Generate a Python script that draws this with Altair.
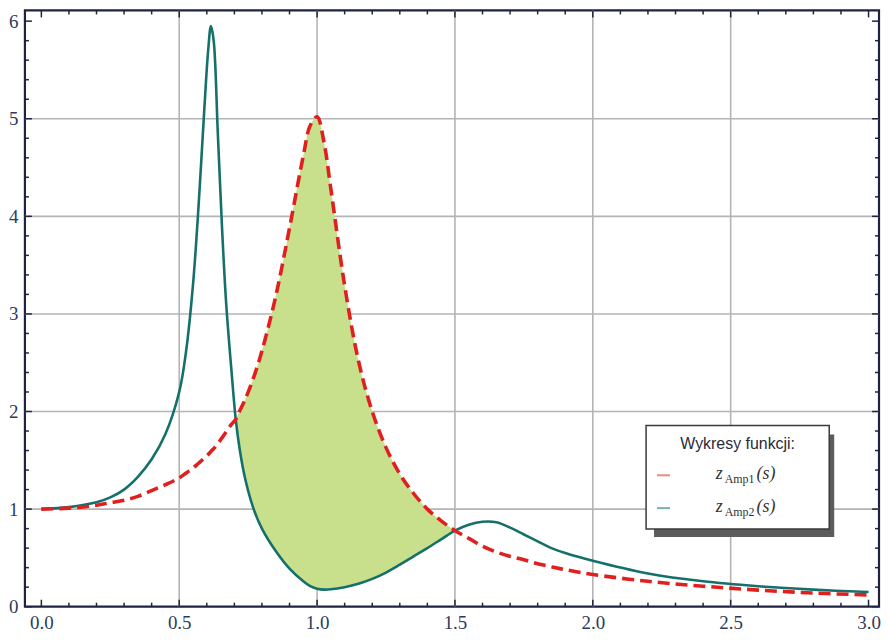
import altair as alt
import pandas as pd

# ---- data ----
s = [0.0, 0.1, 0.2, 0.25, 0.3, 0.35, 0.4, 0.45, 0.5, 0.525, 0.55, 0.57, 0.59, 0.605, 0.615,
     0.625, 0.64, 0.655, 0.67, 0.69, 0.705, 0.72, 0.74, 0.77, 0.8, 0.85, 0.9, 0.95,
     0.975, 1.0, 1.025, 1.05, 1.1, 1.15, 1.2, 1.25, 1.3, 1.35, 1.4, 1.45, 1.5, 1.55,
     1.6, 1.65, 1.7, 1.75, 1.8, 1.85, 1.9, 2.0, 2.2, 2.4, 2.6, 2.8, 3.0]

z_amp1 = [1.00, 1.01, 1.04, 1.065, 1.09, 1.13, 1.19, 1.25, 1.32, 1.37, 1.42, 1.47, 1.52, 1.56, 1.59,
          1.62, 1.67, 1.73, 1.79, 1.87, 1.92, 2.01, 2.13, 2.35, 2.62, 3.18, 3.88, 4.62,
          4.93, 5.02, 4.76, 4.28, 3.29, 2.52, 2.00, 1.63, 1.36, 1.16, 1.00, 0.88, 0.78, 0.70,
          0.62, 0.56, 0.515, 0.48, 0.44, 0.41, 0.38, 0.33, 0.26, 0.21, 0.17, 0.14, 0.12]

z_amp2 = [1.00, 1.02, 1.07, 1.12, 1.20, 1.33, 1.51, 1.77, 2.20, 2.62, 3.30, 4.10, 5.05, 5.70, 5.95,
          5.80, 4.85, 3.90, 3.12, 2.40, 1.92, 1.60, 1.30, 1.00, 0.80, 0.57, 0.39, 0.26,
          0.21, 0.185, 0.175, 0.178, 0.20, 0.235, 0.285, 0.35, 0.43, 0.515, 0.60, 0.69, 0.78, 0.84,
          0.87, 0.865, 0.81, 0.74, 0.67, 0.60, 0.55, 0.47, 0.34, 0.26, 0.21, 0.175, 0.15]

x_labels = [0.0, 0.5, 1.0, 1.5, 2.0, 2.5, 3.0]
y_labels = [0, 1, 2, 3, 4, 5, 6]
x_grid = [0.5, 1.0, 1.5, 2.0, 2.5]
y_grid = [1, 2, 3, 4, 5]
x_minor = [round(i / 10, 1) for i in range(0, 31) if i % 5 != 0]
y_minor = [round(i / 5, 1) for i in range(0, 31) if i % 5 != 0]

W, H = 858, 599
XD = [-0.0596, 3.038]
YD = [0, 6.11]

df = pd.DataFrame({"s": s, "z1": z_amp1, "z2": z_amp2})

xs = alt.Scale(domain=XD, nice=False, zero=False)
ys = alt.Scale(domain=YD, nice=False, zero=False)

lab_font = "Liberation Serif"
lab_col = "#2e3a5c"
frame_col = "#1f2340"
interp = "catmull-rom"

xa = alt.Axis(values=x_labels, format=".1f", title=None, grid=False, ticks=False, domain=False,
              labelFont=lab_font, labelFontSize=19, labelColor=lab_col, labelPadding=7)
ya = alt.Axis(values=y_labels, format="d", title=None, grid=False, ticks=False, domain=False,
              labelFont=lab_font, labelFontSize=19, labelColor=lab_col, labelPadding=7)


def X(f):
    return alt.X(f, scale=xs, axis=xa)


def Y(f):
    return alt.Y(f, scale=ys, axis=ya)


# grid
xg = alt.Chart(pd.DataFrame({"v": x_grid})).mark_rule(color="#b4b4b4", strokeWidth=1.6).encode(
    x=X("v:Q"))
yg = alt.Chart(pd.DataFrame({"v": y_grid})).mark_rule(color="#b4b4b4", strokeWidth=1.6).encode(
    y=Y("v:Q"))


# frame ticks (inward)
def xticks(vals, length):
    d = pd.DataFrame({"v": vals})
    b = alt.Chart(d).mark_rule(color=frame_col, strokeWidth=1.5).encode(
        x=X("v:Q"), y=alt.value(H), y2=alt.value(H - length))
    t = alt.Chart(d).mark_rule(color=frame_col, strokeWidth=1.5).encode(
        x=X("v:Q"), y=alt.value(0), y2=alt.value(length))
    return [b, t]


def yticks(vals, length):
    d = pd.DataFrame({"v": vals})
    l = alt.Chart(d).mark_rule(color=frame_col, strokeWidth=1.5).encode(
        y=Y("v:Q"), x=alt.value(0), x2=alt.value(length))
    r = alt.Chart(d).mark_rule(color=frame_col, strokeWidth=1.5).encode(
        y=Y("v:Q"), x=alt.value(W), x2=alt.value(W - length))
    return [l, r]


tick_layers = xticks(x_labels, 7) + xticks(x_minor, 4) + yticks(y_labels, 7) + yticks(y_minor, 4)

base = alt.Chart(df)

fill = base.transform_filter("datum.s >= 0.705 && datum.s <= 1.5").mark_area(
    color="#c8df8c", opacity=1, interpolate=interp).encode(
    x=X("s:Q"), y=Y("z2:Q"), y2="z1:Q")

teal = base.mark_line(color="#15706b", strokeWidth=2.6, interpolate=interp).encode(
    x=X("s:Q"), y=Y("z2:Q"))
red = base.mark_line(color="#e0201e", strokeWidth=3.6, strokeDash=[12, 6],
                     interpolate=interp).encode(
    x=X("s:Q"), y=Y("z1:Q"))

# legend box (positions in pixels)
one = pd.DataFrame({"a": [0]})
lx0, lx1, ly0, ly1 = 624, 808, 417, 521
shadow = alt.Chart(one).mark_rect(color="#5c5c5c").encode(
    x=alt.value(lx0 + 8), x2=alt.value(lx1 + 5), y=alt.value(ly0 + 9), y2=alt.value(ly1 + 8))
box = alt.Chart(one).mark_rect(fill="white", stroke="#3a3a3a", strokeWidth=1.5).encode(
    x=alt.value(lx0), x2=alt.value(lx1), y=alt.value(ly0), y2=alt.value(ly1))
title = alt.Chart(one).mark_text(text="Wykresy funkcji:", font="Liberation Sans Narrow, Liberation Sans",
                                  fontSize=16, color="#2a2a3a", align="center", baseline="middle").encode(
    x=alt.value(716), y=alt.value(436))

legend_layers = [shadow, box, title]
entries = [("Amp1", "#ef8585", 467), ("Amp2", "#78b0ab", 500)]
for sub, col, yy in entries:
    legend_layers.append(alt.Chart(one).mark_rule(color=col, strokeWidth=2).encode(
        x=alt.value(635), x2=alt.value(648), y=alt.value(yy)))
    legend_layers.append(alt.Chart(one).mark_text(text="z", font=lab_font, fontStyle="italic",
                                                  fontSize=18, color="#333", align="left",
                                                  baseline="middle").encode(
        x=alt.value(694), y=alt.value(yy - 1)))
    legend_layers.append(alt.Chart(one).mark_text(text=sub, font=lab_font, fontSize=12,
                                                  color="#333", align="left",
                                                  baseline="middle").encode(
        x=alt.value(703), y=alt.value(yy + 4)))
    legend_layers.append(alt.Chart(one).mark_text(text="(s)", font=lab_font, fontStyle="italic",
                                                  fontSize=18, color="#333", align="left",
                                                  baseline="middle").encode(
        x=alt.value(735), y=alt.value(yy - 1)))

chart = alt.layer(xg, yg, fill, teal, red, *tick_layers, *legend_layers).properties(
    width=W, height=H,
    autosize=alt.AutoSizeParams(type="none"),
    padding={"left": 17, "top": 1, "right": 2, "bottom": 25},
    background="white",
).configure_view(stroke=frame_col, strokeWidth=2.2)

chart.save("out.html", embed_options={"renderer": "svg", "actions": False})
